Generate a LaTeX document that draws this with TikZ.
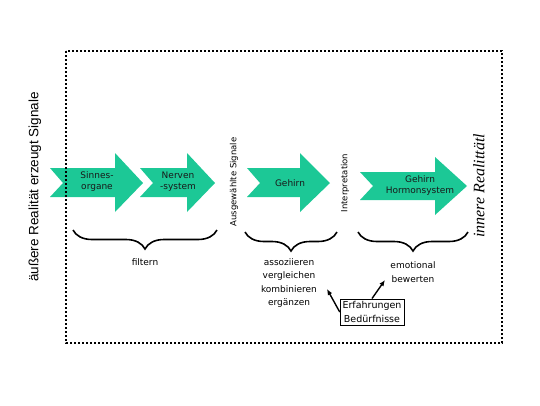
\documentclass[tikz,border=0pt]{standalone}
\usepackage{fontspec}
\setmainfont{DejaVu Sans}
\newfontfamily\arialf{Liberation Sans}
\newfontfamily\timesf{Liberation Serif}
\usetikzlibrary{decorations.pathreplacing,arrows.meta,calc}
\definecolor{flowgreen}{RGB}{28,200,150}
\begin{document}
\begin{tikzpicture}[x=1pt,y=-1pt,
  flow/.style={fill=flowgreen, draw=none},
  inlbl/.style={font=\fontsize{9}{11}\selectfont, align=center, text=black!90, inner sep=0pt},
  lbl/.style={font=\fontsize{9}{13.5}\selectfont, align=center, text=black, inner sep=0pt},
  vlbl/.style={font=\fontsize{8.5}{10}\selectfont, rotate=90, text=black, inner sep=0pt},
  bracestyle/.style={line width=1.6pt, decorate, decoration={brace, mirror, amplitude=19pt}},
  frame/.style={line width=2pt, dash pattern=on 2pt off 2pt},
  link/.style={line width=1.4pt, -{Latex[length=6pt,width=5pt]}}]
\useasboundingbox (0,0) rectangle (540,405);

% flow arrows
\path[flow] (50,168) -- (63,183) -- (50,197) -- (115,197) -- (115,212) -- (143,183) -- (115,153) -- (115,168) -- cycle;
\path[flow] (140,168) -- (153,183) -- (140,197) -- (187,197) -- (187,212) -- (215,183) -- (187,153) -- (187,168) -- cycle;
\path[flow] (247,168) -- (260,183) -- (247,197) -- (300,197) -- (300,212) -- (330,183) -- (300,153) -- (300,168) -- cycle;
\path[flow] (360,172) -- (373,186) -- (360,200) -- (435,200) -- (435,215) -- (467,186) -- (435,157) -- (435,172) -- cycle;

\node[inlbl] (sinne) at (97,182) {Sinnes-\\organe};
\node[inlbl] (nerv) at (178,182) {Nerven\\-system};
\node[inlbl] (geh) at (290,183) {Gehirn};
\node[inlbl] (hormon) at (420,186) {Gehirn\\Hormonsystem};

% frame
\draw[frame] (66,51) rectangle (502,343);

% vertical labels
\node[rotate=90, font=\arialf\fontsize{13.5}{15}\selectfont, inner sep=0pt] (aussen) at (35,187) {äußere Realität erzeugt Signale};
\node[vlbl] (ausgew) at (234,182) {Ausgewählte Signale};
\node[vlbl] (interp) at (345,183) {Interpretation};
\node[rotate=90, font=\timesf\itshape\fontsize{16}{18}\selectfont, inner sep=0pt] (innen) at (479,186) {innere Realittätl};

% braces
\coordinate (b1l) at (73,230); \coordinate (b1r) at (217,230);
\coordinate (b2l) at (245,232); \coordinate (b2r) at (337,232);
\coordinate (b3l) at (358,232); \coordinate (b3r) at (468,232);
\draw[bracestyle] (b1l) -- (b1r);
\draw[bracestyle] (b2l) -- (b2r);
\draw[bracestyle] (b3l) -- (b3r);

\node[lbl] (filt) at (145,262) {filtern};
\node[lbl] (assoc) at (289,283) {assoziieren\\vergleichen\\kombinieren\\ergänzen};
\node[lbl] (emo) at (413,272) {emotional\\bewerten};

\node[draw, line width=0.6pt, font=\fontsize{9.5}{14}\selectfont, align=center, inner sep=2.5pt, text=black] (erf) at (372,312) {Erfahrungen\\Bedürfnisse};

\coordinate (t1) at (327,289);
\coordinate (t2) at (385,280);
\draw[link] (erf.west) -- (t1);
\draw[link] (erf.north) -- (t2);
\end{tikzpicture}
\end{document}
